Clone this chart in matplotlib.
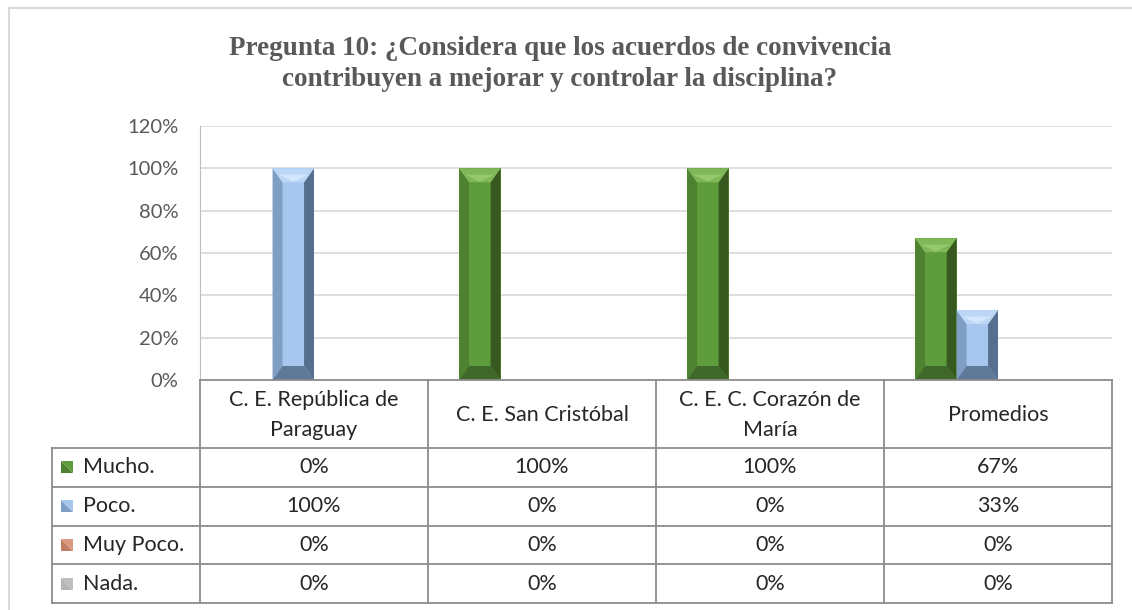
import numpy as np
import matplotlib
matplotlib.use('Agg')
import matplotlib.pyplot as plt
from matplotlib.lines import Line2D
from matplotlib.patches import Polygon

plt.rcParams['font.family'] = ['Lato', 'DejaVu Sans']

# ---- data ----
categories = ['C. E. República de\nParaguay', 'C. E. San Cristóbal',
              'C. E. C. Corazón de\nMaría', 'Promedios']
series = ['Mucho.', 'Poco.', 'Muy Poco.', 'Nada.']
mucho = [0, 100, 100, 67]
poco = [100, 0, 0, 33]
muy_poco = [0, 0, 0, 0]
nada = [0, 0, 0, 0]
values = [mucho, poco, muy_poco, nada]
yticks = [0, 20, 40, 60, 80, 100, 120]
title = 'Pregunta 10: ¿Considera que los acuerdos de convivencia\ncontribuyen a mejorar y controlar la disciplina?'

# bevel palettes: face, left, right, top, bottom
PAL = [
    dict(face='#5f9c3b', left='#4e8230', right='#37581f', top='#80b758', tip='#96c96e', bot='#3f682a'),
    dict(face='#a6c6ee', left='#7f9ec4', right='#566f8e', top='#bcd7f6', tip='#d3e6fb', bot='#5f7a98'),
    dict(face='#d99a7f', left='#c07f63', right='#8f5642', top='#e7b39c', tip='#f0c6b3', bot='#955c47'),
    dict(face='#bfbfbf', left='#b5b5b5', right='#bdbdbd', top='#c4c4c4', tip='#dddddd', bot='#8a8a8a'),
]

W, H = 1132, 610
fig = plt.figure(figsize=(W / 100, H / 100), dpi=100)


def fx(px):
    return px / W


def fy(py):
    return 1 - py / H


# outer chart frame (top + left visible)
fig.add_artist(Line2D([fx(8.5), 1], [fy(7.5), fy(7.5)], color='#d9d9d9', lw=1.5))
fig.add_artist(Line2D([fx(8.5), fx(8.5)], [fy(7.5), 0], color='#d9d9d9', lw=1.5))

PL, PR, PT, PB = 200, 1112, 126, 380
ax = fig.add_axes([fx(PL), fy(PB), fx(PR) - fx(PL), fy(PT) - fy(PB)])
ax.set_xlim(-0.5, len(categories) - 0.5)
ax.set_ylim(0, 120)
ax.set_yticks(yticks)
ax.set_yticklabels(['%d%%' % t for t in yticks], fontsize=14.5, color='#595959')
ax.tick_params(axis='y', length=0, pad=15.5)
ax.set_xticks([])
for s in ['top', 'right', 'bottom']:
    ax.spines[s].set_visible(False)
ax.spines['left'].set_color('#bfbfbf')
ax.yaxis.grid(True, color='#d9d9d9', lw=1.2)
ax.set_axisbelow(True)

nser = len(series)
w = 1 / (nser + 1.5)
ypp = 120 / (PB - PT)          # data units per pixel
d = 14 * ypp
for j, vals in enumerate(values):
    x = np.arange(len(categories)) + (j - (nser - 1) / 2) * w
    bars = ax.bar(x, vals, width=w, color=PAL[j]['face'], zorder=2)
    c = PAL[j]
    for b in bars:
        h = b.get_height()
        if h <= 0:
            continue
        x0 = b.get_x(); x1 = x0 + b.get_width(); bx = 0.24 * b.get_width()
        dd = min(d, h / 3)
        xm = (x0 + x1) / 2
        polys = [
            ([(x0, 0), (x0 + bx, dd), (x0 + bx, h - dd), (x0, h)], c['left']),
            ([(x1, 0), (x1 - bx, dd), (x1 - bx, h - dd), (x1, h)], c['right']),
            ([(x0, 0), (x1, 0), (x1 - bx, dd), (x0 + bx, dd)], c['bot']),
            ([(x0, h), (x1, h), (x1 - bx, h - dd), (x0 + bx, h - dd)], c['top']),
            ([(x0 + bx * 0.6, h - dd * 0.45), (x1 - bx * 0.6, h - dd * 0.45), (xm, h - dd * 0.95)], c['tip']),
        ]
        for pts, col in polys:
            ax.add_patch(Polygon(pts, closed=True, fc=col, ec='none', zorder=3))

# ---- data table ----
fig.canvas.draw()
to_px = lambda xd: ax.transData.transform((xd, 0))[0]
col_edges = [to_px(i - 0.5) for i in range(len(categories) + 1)]
LEG_L = 52
HDR_B = 448
row_h = (603 - HDR_B) / len(series)
row_edges = [HDR_B + k * row_h for k in range(len(series) + 1)]
lc = '#8c8c8c'


def hline(y, xa, xb):
    fig.add_artist(Line2D([fx(xa), fx(xb)], [fy(y), fy(y)], color=lc, lw=1.3))


def vline(x, ya, yb):
    fig.add_artist(Line2D([fx(x), fx(x)], [fy(ya), fy(yb)], color=lc, lw=1.3))


hline(PB, col_edges[0], col_edges[-1])
for y in row_edges:
    hline(y, LEG_L, col_edges[-1])
for xe in col_edges:
    vline(xe, PB, row_edges[-1])
vline(LEG_L, HDR_B, row_edges[-1])

fs = 15.5
for i, cat in enumerate(categories):
    xc = (col_edges[i] + col_edges[i + 1]) / 2
    fig.text(fx(xc), fy((PB + HDR_B) / 2 + 1), cat, ha='center', va='center',
             fontsize=fs, color='#262626', linespacing=1.6)

for k, name in enumerate(series):
    yc = (row_edges[k] + row_edges[k + 1]) / 2
    c = PAL[k]
    ks = 12
    kx, ky = 61, yc - ks / 2
    # key square: dark lower-left, light upper-right
    fig.add_artist(Polygon([(fx(kx), fy(ky)), (fx(kx), fy(ky + ks)), (fx(kx + ks), fy(ky + ks))],
                           closed=True, fc=c['left'], ec='none'))
    fig.add_artist(Polygon([(fx(kx), fy(ky)), (fx(kx + ks), fy(ky)), (fx(kx + ks), fy(ky + ks))],
                           closed=True, fc=c['face'], ec='none'))
    fig.text(fx(83), fy(yc), name, ha='left', va='center', fontsize=fs, color='#262626')
    for i, v in enumerate(values[k]):
        xc = (col_edges[i] + col_edges[i + 1]) / 2
        fig.text(fx(xc), fy(yc), '%d%%' % v, ha='center', va='center', fontsize=fs, color='#262626')

fig.text(fx(560), fy(64), title, ha='center', va='center', fontsize=19.5,
         fontweight='bold', family='Liberation Serif', color='#595959', linespacing=1.35)

fig.savefig('out.png', dpi=100, facecolor='white')
